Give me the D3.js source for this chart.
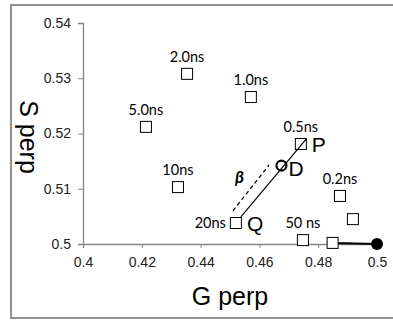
<!DOCTYPE html>
<html>
<head>
<meta charset="utf-8">
<script src="https://cdn.jsdelivr.net/npm/d3@7"></script>
<style>
  body { margin: 0; background: #fff; }
  svg { display: block; }
</style>
</head>
<body>
<script>
// data
var gVals   = [0.4354, 0.4214, 0.4571, 0.4741, 0.4323, 0.4520, 0.4874, 0.4918, 0.4748, 0.4849];
var sVals   = [0.5308, 0.5212, 0.5266, 0.5181, 0.5103, 0.5038, 0.5087, 0.5045, 0.5007, 0.5002];
var ptNames = ["2.0ns", "5.0ns", "1.0ns", "0.5ns", "10ns", "20ns", "0.2ns", "", "50 ns", ""];
var endG = 0.5, endS = 0.5;            // filled end point
var pqG = [0.4537, 0.4759], pqS = [0.5049, 0.5190];   // Q -> P segment
var betaG = [0.4510, 0.4633], betaS = [0.5060, 0.5143]; // dashed beta segment
var dG = 0.4675, dS = 0.5142;          // point D
var xTicks = [0.4, 0.42, 0.44, 0.46, 0.48, 0.5];
var yTicks = [0.5, 0.51, 0.52, 0.53, 0.54];

var W = 393, H = 320;
var svg = d3.select("body").append("svg").attr("width", W).attr("height", H);

// outer frame
svg.append("rect")
  .attr("x", 11).attr("y", 5).attr("width", 400).attr("height", 313)
  .attr("fill", "none").attr("stroke", "#6e6e6e").attr("stroke-width", 1.5);

var x = d3.scaleLinear().domain([0.4, 0.5]).range([83, 377]);
var y = d3.scaleLinear().domain([0.5, 0.54]).range([244, 23]);

var fmt = function(d){ return d3.format("")(+d.toFixed(2)); };
var xAxis = svg.append("g").attr("transform", "translate(0," + y(0.5) + ")")
  .call(d3.axisBottom(x).tickValues(xTicks).tickSize(4).tickPadding(9).tickFormat(fmt));
var yAxis = svg.append("g").attr("transform", "translate(" + x(0.4) + ",0)")
  .call(d3.axisLeft(y).tickValues(yTicks).tickSize(5).tickPadding(7).tickFormat(fmt));

[xAxis, yAxis].forEach(function(a){
  a.select(".domain").attr("stroke", "#868686").attr("stroke-width", 1.3);
  a.selectAll(".tick line").attr("stroke", "#868686");
  a.selectAll("text").attr("fill", "#222").style("font-family", "Liberation Sans, Arial, sans-serif").style("font-size", "14px");
});

// axis titles
var arial = "Liberation Sans, Arial, sans-serif";
svg.append("text").attr("x", x(0.45)).attr("y", 305).attr("text-anchor", "middle")
  .style("font-family", arial).style("font-size", "25px").text("G perp");
svg.append("text").attr("transform", "translate(20,137) rotate(90)").attr("text-anchor", "middle")
  .style("font-family", arial).style("font-size", "25px").text("S perp");

// line from last square to the end point
svg.append("line")
  .attr("x1", x(gVals[9])).attr("y1", y(sVals[9]))
  .attr("x2", x(endG)).attr("y2", y(endS))
  .attr("stroke", "#000").attr("stroke-width", 2);

// squares
var pts = gVals.map(function(g, i){ return {g: g, s: sVals[i], name: ptNames[i]}; });
var sq = 11;
svg.selectAll(".pt").data(pts).enter().append("rect")
  .attr("class", "pt")
  .attr("x", function(d){ return x(d.g) - sq / 2; })
  .attr("y", function(d){ return y(d.s) - sq / 2; })
  .attr("width", sq).attr("height", sq)
  .attr("fill", "#fff").attr("stroke", "#000").attr("stroke-width", 1);

svg.append("circle").attr("cx", x(endG)).attr("cy", y(endS)).attr("r", 6).attr("fill", "#000");

// point labels
svg.selectAll(".lbl").data(pts.filter(function(d){ return d.name; })).enter().append("text")
  .attr("class", "lbl")
  .attr("x", function(d){ return d.name === "20ns" ? x(d.g) - 10 : x(d.g); })
  .attr("y", function(d){ return d.name === "20ns" ? y(d.s) + 5 : y(d.s) - 12; })
  .attr("text-anchor", function(d){ return d.name === "20ns" ? "end" : "middle"; })
  .style("font-family", "Lato, 'Open Sans', sans-serif").style("font-size", "14.5px")
  .text(function(d){ return d.name; });

// Q-P line, beta dashed line, D
svg.append("line")
  .attr("x1", x(pqG[0])).attr("y1", y(pqS[0])).attr("x2", x(pqG[1])).attr("y2", y(pqS[1]))
  .attr("stroke", "#000").attr("stroke-width", 1.2);
svg.append("line")
  .attr("x1", x(betaG[0])).attr("y1", y(betaS[0])).attr("x2", x(betaG[1])).attr("y2", y(betaS[1]))
  .attr("stroke", "#000").attr("stroke-width", 1.2).attr("stroke-dasharray", "4,3");
svg.append("circle").attr("cx", x(dG)).attr("cy", y(dS)).attr("r", 5)
  .attr("fill", "none").attr("stroke", "#000").attr("stroke-width", 2.2);

svg.append("text").attr("x", x(gVals[3]) + 11).attr("y", y(sVals[3]) + 8)
  .style("font-family", arial).style("font-size", "21px").text("P");
svg.append("text").attr("x", x(gVals[5]) + 11).attr("y", y(sVals[5]) + 8)
  .style("font-family", arial).style("font-size", "21px").text("Q");
svg.append("text").attr("x", x(dG) + 7).attr("y", y(dS) + 10)
  .style("font-family", arial).style("font-size", "21px").text("D");
svg.append("text").attr("x", 235).attr("y", 183)
  .style("font-family", "Lato, 'Open Sans', sans-serif").style("font-size", "17px")
  .style("font-weight", "bold").style("font-style", "italic").text("β");
</script>
</body>
</html>
